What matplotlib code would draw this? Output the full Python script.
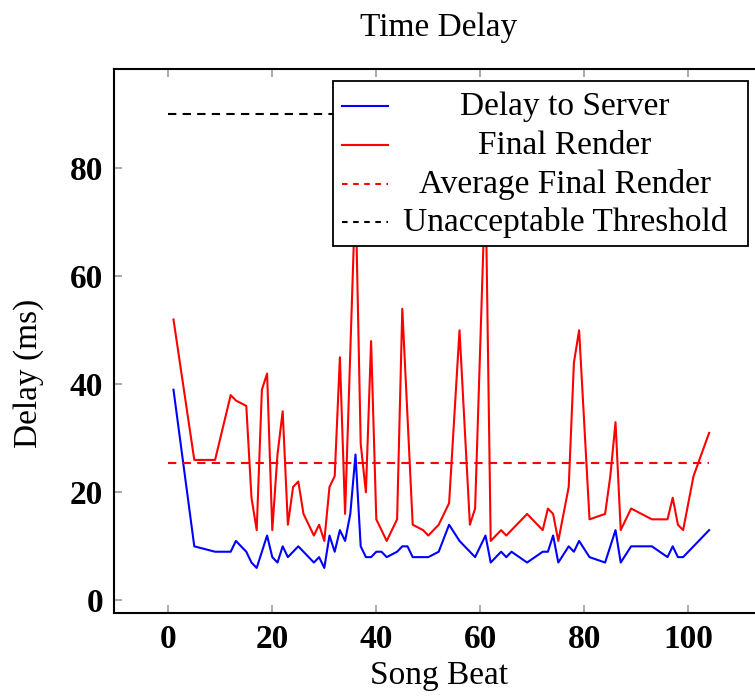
import matplotlib
matplotlib.use("Agg")
import matplotlib.pyplot as plt
from matplotlib.lines import Line2D
from matplotlib.patches import Rectangle

plt.rcParams['font.family'] = ['Liberation Serif', 'DejaVu Serif']
plt.rcParams['lines.scale_dashes'] = False

# ------------------------------------------------------------------
# data
# ------------------------------------------------------------------
server_x = [1, 5, 9, 12, 13, 15, 16, 17, 19, 20, 21, 22, 23, 25, 28, 29, 30,
            31, 32, 33, 34, 35, 36, 37, 38, 39, 40, 41, 42, 44, 45, 46, 47,
            50, 52, 54, 56, 58, 59, 61, 62, 64, 65, 66, 69, 72, 73, 74, 75,
            77, 78, 79, 81, 84, 86, 87, 89, 93, 96, 97, 98, 99, 104]
server_y = [39, 10, 9, 9, 11, 9, 7, 6, 12, 8, 7, 10, 8, 10, 7, 8, 6,
            12, 9, 13, 11, 16, 27, 10, 8, 8, 9, 9, 8, 9, 10, 10, 8,
            8, 9, 14, 11, 9, 8, 12, 7, 9, 8, 9, 7, 9, 9, 12, 7,
            10, 9, 11, 8, 7, 13, 7, 10, 10, 8, 10, 8, 8, 13]

render_x = [1, 5, 9, 12, 13, 15, 16, 17, 18, 19, 20, 21, 22, 23, 24, 25, 26,
            28, 29, 30, 31, 32, 33, 34, 36, 37, 38, 39, 40, 42, 44, 45, 47,
            49, 50, 52, 54, 56, 58, 59, 61, 62, 64, 65, 69, 72, 73, 74, 75,
            77, 78, 79, 81, 84, 85, 86, 87, 89, 93, 96, 97, 98, 99, 101, 104]
render_y = [52, 26, 26, 38, 37, 36, 19, 13, 39, 42, 13, 27, 35, 14, 21, 22, 16,
            12, 14, 11, 21, 23, 45, 16, 76, 29, 20, 48, 15, 11, 15, 54, 14,
            13, 12, 14, 18, 50, 14, 17, 78, 11, 13, 12, 16, 13, 17, 16, 11,
            21, 44, 50, 15, 16, 23, 33, 13, 17, 15, 15, 19, 14, 13, 23, 31]

AVG_RENDER = 25.4
THRESHOLD = 90
ref_x = [0, 104]

labels = ['Delay to Server', 'Final Render', 'Average Final Render',
          'Unacceptable Threshold']

W, H = 755, 699
fig = plt.figure(figsize=(W / 100, H / 100), dpi=100)

# axes box in pixels (right edge runs past the picture, like the reference)
L, R, T, B = 114.2, 763.2, 68.9, 613.3
ax = fig.add_axes([L / W, 1 - B / H, (R - L) / W, (B - T) / H])

FS = 24
dash = (6, 4.5)
ax.plot(server_x, server_y, color='#0000FF', lw=1.5)
ax.plot(render_x, render_y, color='#FF0000', lw=1.5)
ax.plot(ref_x, [AVG_RENDER] * 2, color='#FF0000', lw=1.5, dashes=dash)
ax.plot(ref_x, [THRESHOLD] * 2, color='black', lw=1.5, dashes=dash)

ax.set_xlim(-10.4, 114.4)
ax.set_ylim(-2.4, 98.4)
ax.set_xticks([0, 20, 40, 60, 80, 100])
ax.set_yticks([0, 20, 40, 60, 80])
ax.tick_params(direction='in', length=6, width=1.2, color='#999999',
               top=True, right=True, labelsize=FS, pad=8)
for lab in ax.get_xticklabels() + ax.get_yticklabels():
    lab.set_fontweight('bold')
for sp in ax.spines.values():
    sp.set_linewidth(1.5)

ax.set_xlabel('Song Beat', fontsize=FS, labelpad=4)
ax.set_ylabel('Delay (ms)', fontsize=FS)
ax.yaxis.set_label_coords(-0.108, 0.44)
ax.set_title('Time Delay', fontsize=FS, pad=24)

# legend, drawn by hand so the labels are centred like pgfplots
def fx(px):
    return px / W

def fy(py):
    return 1 - py / H

fig.patches.append(Rectangle((fx(333), fy(246)), fx(748) - fx(333),
                             fy(81) - fy(246), transform=fig.transFigure,
                             facecolor='white', edgecolor='black', lw=1.3,
                             zorder=10))
styles = [dict(color='#0000FF'), dict(color='#FF0000'),
          dict(color='#FF0000', dashes=(4, 4)), dict(color='black', dashes=(4, 4))]
rows = [106, 145, 183.5, 222]
for lab, st, yy in zip(labels, styles, rows):
    fig.lines.append(Line2D([fx(342), fx(388)], [fy(yy)] * 2,
                            transform=fig.transFigure, lw=1.5, zorder=11, **st))
    fig.text(fx(565), fy(yy + 9.5), lab, ha='center', va='baseline',
             fontsize=FS, zorder=12)

fig.savefig('out.png', dpi=100, facecolor='white')
